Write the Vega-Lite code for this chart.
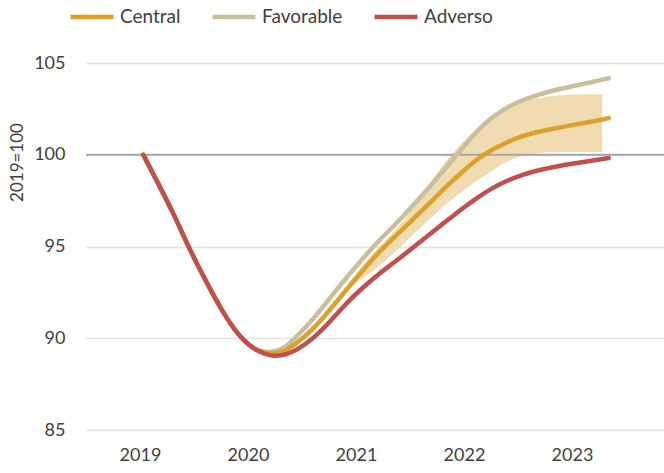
{
  "$schema": "https://vega.github.io/schema/vega-lite/v6.json",
  "width": 578,
  "height": 367,
  "autosize": {"type": "none"},
  "padding": {"left": 86, "top": 63, "right": 0, "bottom": 43},
  "config": {
    "view": {"stroke": null},
    "font": "Lato",
    "axis": {"labelFont": "Lato", "titleFont": "Lato"},
    "legend": {"labelFont": "Lato"}
  },
  "datasets": {
    "lines": [
      {"t": 2019.03, "v": 100, "s": "Favorable"},
      {"t": 2019.15, "v": 98.64, "s": "Favorable"},
      {"t": 2019.31, "v": 96.82, "s": "Favorable"},
      {"t": 2019.46, "v": 94.82, "s": "Favorable"},
      {"t": 2019.62, "v": 93.0, "s": "Favorable"},
      {"t": 2019.77, "v": 91.37, "s": "Favorable"},
      {"t": 2019.93, "v": 90.0, "s": "Favorable"},
      {"t": 2020.08, "v": 89.3, "s": "Favorable"},
      {"t": 2020.23, "v": 89.2, "s": "Favorable"},
      {"t": 2020.35, "v": 89.5, "s": "Favorable"},
      {"t": 2020.45, "v": 90.1, "s": "Favorable"},
      {"t": 2020.6, "v": 91.0, "s": "Favorable"},
      {"t": 2020.76, "v": 92.2, "s": "Favorable"},
      {"t": 2020.91, "v": 93.3, "s": "Favorable"},
      {"t": 2021.07, "v": 94.4, "s": "Favorable"},
      {"t": 2021.22, "v": 95.37, "s": "Favorable"},
      {"t": 2021.38, "v": 96.3, "s": "Favorable"},
      {"t": 2021.53, "v": 97.25, "s": "Favorable"},
      {"t": 2021.69, "v": 98.3, "s": "Favorable"},
      {"t": 2021.84, "v": 99.35, "s": "Favorable"},
      {"t": 2021.99, "v": 100.4, "s": "Favorable"},
      {"t": 2022.12, "v": 101.3, "s": "Favorable"},
      {"t": 2022.25, "v": 102.0, "s": "Favorable"},
      {"t": 2022.4, "v": 102.6, "s": "Favorable"},
      {"t": 2022.55, "v": 103.0, "s": "Favorable"},
      {"t": 2022.7, "v": 103.3, "s": "Favorable"},
      {"t": 2022.86, "v": 103.55, "s": "Favorable"},
      {"t": 2023.01, "v": 103.75, "s": "Favorable"},
      {"t": 2023.18, "v": 103.95, "s": "Favorable"},
      {"t": 2023.34, "v": 104.17, "s": "Favorable"},

      {"t": 2019.03, "v": 100, "s": "Central"},
      {"t": 2019.15, "v": 98.64, "s": "Central"},
      {"t": 2019.31, "v": 96.82, "s": "Central"},
      {"t": 2019.46, "v": 94.82, "s": "Central"},
      {"t": 2019.62, "v": 93.0, "s": "Central"},
      {"t": 2019.77, "v": 91.37, "s": "Central"},
      {"t": 2019.93, "v": 90.0, "s": "Central"},
      {"t": 2020.08, "v": 89.28, "s": "Central"},
      {"t": 2020.23, "v": 89.1, "s": "Central"},
      {"t": 2020.35, "v": 89.3, "s": "Central"},
      {"t": 2020.45, "v": 89.73, "s": "Central"},
      {"t": 2020.6, "v": 90.46, "s": "Central"},
      {"t": 2020.76, "v": 91.55, "s": "Central"},
      {"t": 2020.91, "v": 92.64, "s": "Central"},
      {"t": 2021.07, "v": 93.75, "s": "Central"},
      {"t": 2021.22, "v": 94.75, "s": "Central"},
      {"t": 2021.38, "v": 95.65, "s": "Central"},
      {"t": 2021.53, "v": 96.5, "s": "Central"},
      {"t": 2021.69, "v": 97.4, "s": "Central"},
      {"t": 2021.84, "v": 98.3, "s": "Central"},
      {"t": 2021.99, "v": 99.1, "s": "Central"},
      {"t": 2022.12, "v": 99.75, "s": "Central"},
      {"t": 2022.25, "v": 100.25, "s": "Central"},
      {"t": 2022.4, "v": 100.7, "s": "Central"},
      {"t": 2022.55, "v": 101.05, "s": "Central"},
      {"t": 2022.7, "v": 101.27, "s": "Central"},
      {"t": 2022.86, "v": 101.45, "s": "Central"},
      {"t": 2023.01, "v": 101.63, "s": "Central"},
      {"t": 2023.18, "v": 101.8, "s": "Central"},
      {"t": 2023.34, "v": 102.0, "s": "Central"},

      {"t": 2019.03, "v": 100, "s": "Adverso"},
      {"t": 2019.15, "v": 98.64, "s": "Adverso"},
      {"t": 2019.31, "v": 96.82, "s": "Adverso"},
      {"t": 2019.46, "v": 94.82, "s": "Adverso"},
      {"t": 2019.62, "v": 93.0, "s": "Adverso"},
      {"t": 2019.77, "v": 91.37, "s": "Adverso"},
      {"t": 2019.93, "v": 90.0, "s": "Adverso"},
      {"t": 2020.08, "v": 89.28, "s": "Adverso"},
      {"t": 2020.23, "v": 89.0, "s": "Adverso"},
      {"t": 2020.35, "v": 89.1, "s": "Adverso"},
      {"t": 2020.45, "v": 89.35, "s": "Adverso"},
      {"t": 2020.6, "v": 89.95, "s": "Adverso"},
      {"t": 2020.76, "v": 90.9, "s": "Adverso"},
      {"t": 2020.91, "v": 91.92, "s": "Adverso"},
      {"t": 2021.07, "v": 92.8, "s": "Adverso"},
      {"t": 2021.22, "v": 93.55, "s": "Adverso"},
      {"t": 2021.38, "v": 94.25, "s": "Adverso"},
      {"t": 2021.53, "v": 94.95, "s": "Adverso"},
      {"t": 2021.69, "v": 95.7, "s": "Adverso"},
      {"t": 2021.84, "v": 96.4, "s": "Adverso"},
      {"t": 2021.99, "v": 97.1, "s": "Adverso"},
      {"t": 2022.12, "v": 97.65, "s": "Adverso"},
      {"t": 2022.25, "v": 98.15, "s": "Adverso"},
      {"t": 2022.4, "v": 98.6, "s": "Adverso"},
      {"t": 2022.55, "v": 98.93, "s": "Adverso"},
      {"t": 2022.7, "v": 99.18, "s": "Adverso"},
      {"t": 2022.86, "v": 99.36, "s": "Adverso"},
      {"t": 2023.01, "v": 99.52, "s": "Adverso"},
      {"t": 2023.18, "v": 99.67, "s": "Adverso"},
      {"t": 2023.34, "v": 99.82, "s": "Adverso"}
    ],
    "band": [
      {"t": 2020.95, "lo": 92.8, "hi": 93.1},
      {"t": 2021.1, "lo": 93.4, "hi": 94.3},
      {"t": 2021.25, "lo": 94.1, "hi": 95.2},
      {"t": 2021.4, "lo": 94.9, "hi": 96.1},
      {"t": 2021.55, "lo": 95.8, "hi": 97.3},
      {"t": 2021.7, "lo": 96.6, "hi": 98.6},
      {"t": 2021.85, "lo": 97.4, "hi": 99.8},
      {"t": 2022.0, "lo": 98.1, "hi": 100.8},
      {"t": 2022.15, "lo": 98.7, "hi": 101.6},
      {"t": 2022.3, "lo": 99.3, "hi": 102.2},
      {"t": 2022.45, "lo": 99.8, "hi": 102.7},
      {"t": 2022.6, "lo": 100.05, "hi": 103.0},
      {"t": 2022.8, "lo": 100.15, "hi": 103.2},
      {"t": 2023.0, "lo": 100.15, "hi": 103.3},
      {"t": 2023.28, "lo": 100.15, "hi": 103.3}
    ]
  },
  "layer": [
    {
      "data": {"name": "band"},
      "mark": {"type": "area", "color": "#efd8a8", "opacity": 0.9, "interpolate": "basis"},
      "encoding": {
        "x": {"field": "t", "type": "quantitative", "scale": {"domain": [2018.5, 2023.852], "nice": false, "zero": false},
          "axis": {"values": [2019, 2020, 2021, 2022, 2023], "format": "d", "grid": false, "domain": false, "ticks": false,
            "labelFontSize": 18, "labelColor": "#404040", "labelPadding": 16, "title": null}},
        "y": {"field": "lo", "type": "quantitative", "scale": {"domain": [85, 105], "nice": false, "zero": false},
          "axis": {"values": [85, 90, 95, 100, 105], "grid": true, "gridColor": "#e2e2e2", "gridWidth": 1.5,
            "domain": false, "ticks": false, "labelFontSize": 18, "labelColor": "#404040", "labelPadding": 21,
            "title": "2019=100", "titleFontSize": 17, "titleFontWeight": "normal", "titleColor": "#404040",
            "titleAngle": -90, "titleX": -69, "titleY": 99, "titleAlign": "center", "titleBaseline": "middle"}},
        "y2": {"field": "hi"}
      }
    },
    {
      "data": {"values": [{"y": 100}]},
      "mark": {"type": "rule", "color": "#a6a6a6", "strokeWidth": 2},
      "encoding": {"y": {"field": "y", "type": "quantitative"}}
    },
    {
      "data": {"name": "lines"},
      "mark": {"type": "line", "strokeWidth": 4.5, "strokeCap": "round", "interpolate": "basis"},
      "encoding": {
        "x": {"field": "t", "type": "quantitative"},
        "y": {"field": "v", "type": "quantitative"},
        "color": {"field": "s", "type": "nominal",
          "scale": {"domain": ["Central", "Favorable", "Adverso"], "range": ["#dba12a", "#c8bf9c", "#c0504d"]},
          "legend": {"orient": "none", "legendX": -18, "legendY": -70, "direction": "horizontal", "title": null,
            "symbolType": "stroke", "symbolSize": 1850, "symbolStrokeWidth": 4.5, "labelFontSize": 19,
            "labelColor": "#404040", "labelOffset": 4, "columnPadding": 22}},
        "order": {"field": "s", "type": "nominal", "sort": "descending"}
      }
    }
  ]
}
